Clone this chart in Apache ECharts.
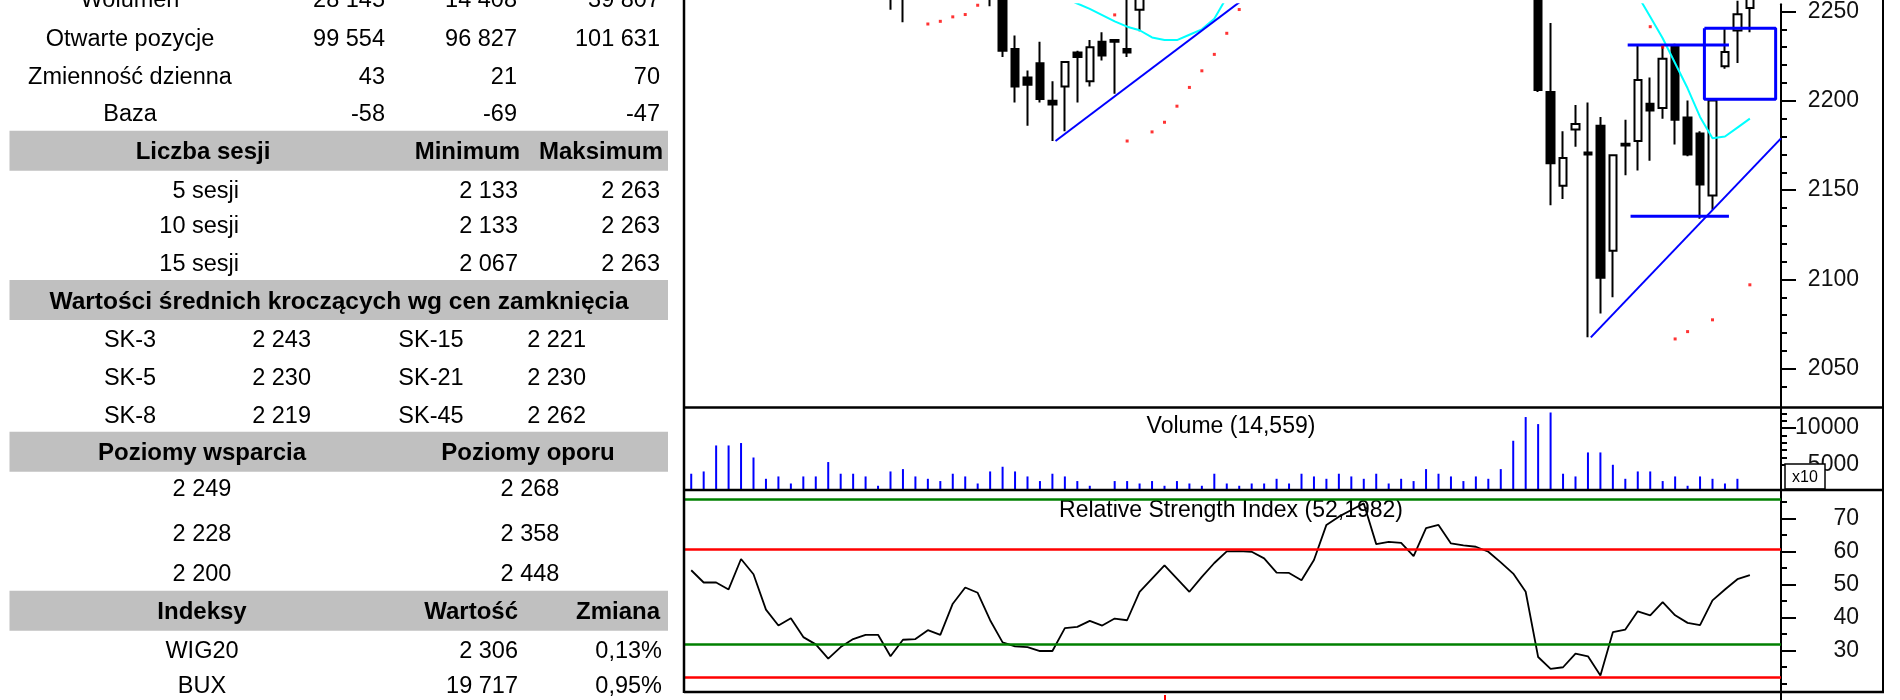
<!DOCTYPE html>
<html>
<head>
<meta charset="utf-8">
<script src="https://cdn.jsdelivr.net/npm/echarts@6/dist/echarts.min.js"></script>
<style>html,body{margin:0;padding:0;background:#fff}#c{width:1900px;height:700px}</style>
</head>
<body>
<div id="c"></div>
<script>
const FONT = '"Liberation Sans", Arial, Helvetica, sans-serif';

// ---------- chart data ----------
const sessions = Array.from({length: 88}, (_, i) => String(i + 1));

const opens = [2296,2300,2297,2296,2293,2304,2299,2286,2277,2280,
  2272,2268,2261,2263,2266,2268,2267,2259,2264,2266,
  2271,2268,2282,2290,2287,2270,2229,2213,2221,2200,
  2208,2227,2211,2233,2234,2229,2251,2262,2276,2287,
  2279,2270,2281,2292,2303,2305,2302,2297,2288,2287,
  2284,2299,2330,2341,2348,2355,2331,2331,2328,2319,
  2340,2343,2328,2327,2324,2320,2309,2297,2278,2205,
  2152.5,2184,2171,2186,2116,2175,2177.5,2198.3,2196,2231,
  2190.7,2181.7,2147,2219.3,2239.3,2252];
const closes = [2300,2296,2295,2292,2305,2300,2285,2278,2281,2272,
  2268,2260,2264,2266,2268,2268,2258,2264,2265,2270,
  2268,2282,2290,2288,2275,2228,2208,2209,2201,2198,
  2221.7,2224.5,2230,2225.4,2233,2227,2262,2275,2288,2280,
  2270,2280,2292,2303,2304,2303,2298,2288,2288,2283,
  2298,2330,2340,2348,2356,2330,2330,2329,2318,2340,
  2344,2328,2327,2325,2320,2310,2298,2280,2206,2165,
  2168,2187,2170,2101,2169.5,2176,2211.6,2194.6,2223.6,2189.4,
  2170,2153.1,2200.2,2227.3,2248.5,2258];
const lows = [2290,2290,2289,2286,2291,2294,2281,2272,2273,2267,
  2262,2256,2257,2259,2261,2262,2251,2244,2257,2260,
  2262,2265,2278,2282,2253,2224.5,2199,2186,2199,2177.5,
  2183,2199,2208,2222.6,2204,2224.5,2239,2258,2270,2274,
  2264,2266,2277,2288,2297,2298,2292,2283,2281,2277,
  2280,2296,2325,2336,2343,2326,2324,2322,2313,2316,
  2335,2324,2321,2319,2314,2304,2290,2272,2205,2141.5,
  2145,2174.3,2067.6,2081,2090,2158.4,2161,2166.4,2190,2175.6,
  2169,2134,2139,2218,2221.2,2238.4];
const highs = [2306,2304,2301,2299,2309,2308,2302,2290,2286,2284,
  2276,2271,2268,2270,2272,2273,2270,2268,2270,2274,
  2275,2285,2294,2295,2290,2272,2236.5,2217,2233,2211,
  2222,2228,2234,2238.4,2234.5,2258,2266,2279,2292,2291,
  2283,2284,2296,2307,2309,2310,2306,2300,2294,2292,
  2301,2334,2345,2352,2360,2358,2336,2335,2332,2343,
  2348,2346,2333,2331,2328,2323,2312,2300,2280,2243.5,
  2183,2197.7,2199,2191,2170,2189.4,2231,2213,2231,2232,
  2200.2,2183,2201,2240.2,2256,2263];

const ma15 = [2306,2305,2304,2303,2302,2301,2299,2297,2295,2293,
  2291,2289,2287,2285,2283,2281,2279,2277,2275,2274,
  2273,2273,2273,2272,2271,2269,2266,2263,2260,2258.5,
  2257.5,2254.5,2251.5,2248,2244.5,2241.5,2239.5,2235.5,2234,2234,
  2237,2240,2246,2258,2264,2268,2273,2277,2281,2284,
  2288,2293,2298,2303,2308,2311,2314,2317,2319,2322,
  2324,2325,2326,2326,2325,2324,2322,2318,2312,2306,
  2300,2294,2288,2282,2276,2269,2259,2247,2235,2221,
  2207,2191,2179,2180,2185,2190];

const sarPoints = [[19,2243],[20,2244.5],[21,2247],[22,2248.3],[23,2253.5],
  [34,2248.1],[35,2177.5],[37,2182.6],[38,2188],[39,2197],[40,2207.5],[41,2216.8],
  [42,2226],[43,2237.8],[44,2251.1],[77,2241.5],[78,2230],[79,2066.7],[80,2070.8],
  [82,2077.4],[85,2097]];

const volume = [3780,4090,7630,7630,7960,5990,3090,3410,2450,3410,
  3410,5370,3780,3780,3410,2140,4090,4410,3410,3090,
  2780,3780,3410,2450,4090,4730,4090,3410,2780,3780,
  3410,2780,2140,1650,2780,2780,2450,2780,2140,2780,
  2450,2140,3780,2450,2140,2450,2450,3090,2450,3780,
  3410,3090,3780,3410,3090,3780,2450,3090,2780,4410,
  3780,3410,2780,3410,3090,4410,8270,11500,10540,12120,
  3780,3410,6680,6680,5000,3090,4090,4090,2780,3410,
  2140,3410,3090,2450,3090,null];

const rsi = [54.3,50.6,50.6,48.5,57.7,53.1,42.4,37.6,39.8,34.1,
  31.9,27.6,31.1,33.5,34.8,34.8,28.3,33.3,33.5,36.2,
  34.8,44.2,49.1,47.5,39.2,32.5,31.3,31.1,29.9,29.9,
  36.8,37.2,39.0,37.6,39.7,39.2,47.8,51.8,55.8,51.8,
  47.8,52.3,56.5,60.0,60.1,59.9,57.9,53.6,53.5,51.3,
  57.4,68.0,70.5,72.5,74.5,62.2,62.9,62.6,58.6,67.0,
  68.0,62.4,61.8,61.4,59.9,56.7,53.3,47.8,28.1,24.5,
  25.0,29.1,28.3,22.5,35.6,36.4,41.9,40.7,44.7,40.7,
  38.4,37.7,45.2,48.5,51.6,52.8];
const rsiLevels = {upperGreen: 75.7, upperRed: 60.8, lowerGreen: 31.9, lowerRed: 21.9};

// analyst drawings, in data coordinates (x = session index)
const trendA = [[29.25, 2177.5], [45.5, 2263]];
const trendB = [[72.23, 2067.6], [87.5, 2179]];
const resistLine = [[75.19, 2231.2], [83.32, 2231.2]];
const supportLine = [[75.42, 2135.4], [83.32, 2135.4]];
const boxArea = [[81.35, 2240.6], [87.07, 2240.6], [87.07, 2200.9], [81.35, 2200.9], [81.35, 2240.6]];

// axis ticks / labels
const priceMajor = [2050, 2100, 2150, 2200, 2250];
const priceMinor = [2040,2060,2070,2080,2090,2110,2120,2130,2140,2160,2170,2180,2190,2210,2220,2230,2240];
const volMajor = [5000, 10000];
const volMinor = [6000,7000,8000,9000,11000,12000];
const rsiMajor = [30, 40, 50, 60, 70];
const rsiMinor = [20, 25, 35, 45, 55, 65, 75];

const volumeTitle = 'Volume (14,559)';
const rsiTitle = 'Relative Strength Index (52,1982)';
const volScaleNote = 'x10';

// ---------- table data ----------
const statLabels = ['Wolumen', 'Otwarte pozycje', 'Zmienność dzienna', 'Baza'];
const statValues = [['28 145','14 408','39 807'],['99 554','96 827','101 631'],['43','21','70'],['-58','-69','-47']];
const sessionHeader = ['Liczba sesji', 'Minimum', 'Maksimum'];
const sessionLabels = ['5 sesji', '10 sesji', '15 sesji'];
const sessionMin = ['2 133', '2 133', '2 067'];
const sessionMax = ['2 263', '2 263', '2 263'];
const maHeader = 'Wartości średnich kroczących wg cen zamknięcia';
const maNamesA = ['SK-3', 'SK-5', 'SK-8'];
const maValsA = ['2 243', '2 230', '2 219'];
const maNamesB = ['SK-15', 'SK-21', 'SK-45'];
const maValsB = ['2 221', '2 230', '2 262'];
const levelHeader = ['Poziomy wsparcia', 'Poziomy oporu'];
const supportLevels = ['2 249', '2 228', '2 200'];
const resistLevels = ['2 268', '2 358', '2 448'];
const indexHeader = ['Indeksy', 'Wartość', 'Zmiana'];
const indexNames = ['WIG20', 'BUX'];
const indexValues = ['2 306', '19 717'];
const indexChanges = ['0,13%', '0,95%'];

// ---------- layout ----------
const G = {left: 685, width: 1096};
const AX = 1781;

const candles = opens.map((o, i) => [o, closes[i], lows[i], highs[i]]);

function txt(text, x, y, align, bold, size) {
  return {type: 'text', silent: true, z: 5, style: {
    text: text, x: x, y: y, fill: '#000',
    fontFamily: FONT, fontSize: size || 23.5, fontWeight: bold ? 'bold' : 'normal',
    align: align, textAlign: align, verticalAlign: 'middle', textVerticalAlign: 'middle'}};
}
function band(y) {
  return {type: 'rect', silent: true, z: 1, shape: {x: 9.5, y: y, width: 658.5, height: 40}, style: {fill: '#c0c0c0'}};
}
function hline(x1, x2, y, w, color) {
  return {type: 'line', silent: true, z: 50, shape: {x1: x1, y1: y, x2: x2, y2: y}, style: {stroke: color || '#000', lineWidth: w}};
}
function vline(x, y1, y2, w, color) {
  return {type: 'line', silent: true, z: 50, shape: {x1: x, y1: y1, x2: x, y2: y2}, style: {stroke: color || '#000', lineWidth: w}};
}

const graphics = [];
// table
const statY = [1, 40, 77.3, 115];
const valRight = [385, 517, 660];
statLabels.forEach((l, i) => {
  graphics.push(txt(l, 130, statY[i], 'center'));
  statValues[i].forEach((v, j) => graphics.push(txt(v, valRight[j], statY[i], 'right')));
});
graphics.push(band(130.7));
graphics.push(txt(sessionHeader[0], 203, 152, 'center', true, 24));
graphics.push(txt(sessionHeader[1], 520, 152, 'right', true, 24));
graphics.push(txt(sessionHeader[2], 663, 152, 'right', true, 24));
const sessY = [191.7, 226.7, 265];
sessionLabels.forEach((l, i) => {
  graphics.push(txt(l, 239, sessY[i], 'right'));
  graphics.push(txt(sessionMin[i], 518, sessY[i], 'right'));
  graphics.push(txt(sessionMax[i], 660, sessY[i], 'right'));
});
graphics.push(band(280));
graphics.push(txt(maHeader, 339, 302, 'center', true, 24.5));
const maY = [340.7, 378.3, 416.7];
maNamesA.forEach((n, i) => {
  graphics.push(txt(n, 130, maY[i], 'center'));
  graphics.push(txt(maValsA[i], 311, maY[i], 'right'));
  graphics.push(txt(maNamesB[i], 431, maY[i], 'center'));
  graphics.push(txt(maValsB[i], 586, maY[i], 'right'));
});
graphics.push(band(431.7));
graphics.push(txt(levelHeader[0], 202, 453, 'center', true, 24));
graphics.push(txt(levelHeader[1], 528, 453, 'center', true, 24));
const lvlY = [490, 535, 575];
supportLevels.forEach((s, i) => {
  graphics.push(txt(s, 202, lvlY[i], 'center'));
  graphics.push(txt(resistLevels[i], 530, lvlY[i], 'center'));
});
graphics.push(band(590.7));
graphics.push(txt(indexHeader[0], 202, 612, 'center', true, 24));
graphics.push(txt(indexHeader[1], 518, 612, 'right', true, 24));
graphics.push(txt(indexHeader[2], 660, 612, 'right', true, 24));
const idxY = [651.7, 686.7];
indexNames.forEach((n, i) => {
  graphics.push(txt(n, 202, idxY[i], 'center'));
  graphics.push(txt(indexValues[i], 518, idxY[i], 'right'));
  graphics.push(txt(indexChanges[i], 662, idxY[i], 'right'));
});
// chart frame
graphics.push(vline(684, 0, 693, 2.5));
graphics.push(hline(684, 1884, 407.5, 2.5));
graphics.push(hline(684, 1884, 490, 2.5));
graphics.push(hline(684, 1884, 692, 2.5));
graphics.push(vline(1883, 0, 693, 2));
graphics.push(vline(AX, 690, 700, 2));
graphics.push({type: 'rect', silent: true, z: 50, shape: {x: 1164, y: 695, width: 2, height: 5}, style: {fill: '#ff0000'}});
// panel titles
graphics.push(Object.assign(txt(volumeTitle, 1231, 427, 'center', false, 23), {z: 0}));
graphics.push(Object.assign(txt(rsiTitle, 1231, 511, 'center', false, 23), {z: 0}));
// x10 box
graphics.push({type: 'rect', silent: true, z: 40, shape: {x: 1785, y: 464, width: 40, height: 25}, style: {fill: '#fff', stroke: '#000', lineWidth: 1.5}});
graphics.push(Object.assign(txt(volScaleNote, 1805, 477.5, 'center', false, 16), {z: 41}));

const labelStyle = {fontFamily: FONT, fontSize: 23, color: '#111', align: 'right', margin: 78,
  padding: [6, 0, 0, 0], formatter: v => String(v)};
function majorAxis(gridIndex, min, max, ticks) {
  return {type: 'value', gridIndex: gridIndex, position: 'right', min: min, max: max,
    axisLine: {show: true, onZero: false, lineStyle: {color: '#000', width: 2}},
    axisTick: {show: true, customValues: ticks, length: 15, lineStyle: {color: '#000', width: 2}},
    axisLabel: Object.assign({customValues: ticks}, labelStyle),
    splitLine: {show: false}};
}
// minor-tick axis: sits on the left slot, shifted onto the right edge, ticks drawn outward (to the right)
function minorAxis(gridIndex, min, max, ticks) {
  return {type: 'value', gridIndex: gridIndex, position: 'left', offset: -G.width, min: min, max: max,
    axisLine: {show: false},
    axisTick: {show: true, inside: true, customValues: ticks, length: 6, lineStyle: {color: '#000', width: 2}},
    axisLabel: {show: false}, splitLine: {show: false}};
}
function overlay(data, width) {
  return {type: 'line', xAxisIndex: 3, yAxisIndex: 0, data: data, symbol: 'none', clip: true,
    lineStyle: {color: '#0000ff', width: width}, z: 4, silent: true};
}

const PMIN = 2028.6, PMAX = 2254.0;
const VMIN = 1700, VMAX = 12732;
const RMIN = 17.82, RMAX = 78.25;

const option = {
  animation: false,
  backgroundColor: '#fff',
  grid: [
    {left: G.left, width: G.width, top: 0, height: 407},
    {left: G.left, width: G.width, top: 408, height: 81},
    {left: G.left, width: G.width, top: 491, height: 200}
  ],
  xAxis: [
    {type: 'category', gridIndex: 0, data: sessions, show: false},
    {type: 'category', gridIndex: 1, data: sessions, show: false},
    {type: 'category', gridIndex: 2, data: sessions, show: false},
    {type: 'value', gridIndex: 0, min: -0.5, max: 87.5, show: false}
  ],
  yAxis: [
    majorAxis(0, PMIN, PMAX, priceMajor),
    minorAxis(0, PMIN, PMAX, priceMinor),
    majorAxis(1, VMIN, VMAX, volMajor),
    minorAxis(1, VMIN, VMAX, volMinor),
    majorAxis(2, RMIN, RMAX, rsiMajor),
    minorAxis(2, RMIN, RMAX, rsiMinor)
  ],
  graphic: {elements: graphics},
  series: [
    {type: 'candlestick', xAxisIndex: 0, yAxisIndex: 0, data: candles, barWidth: 8, clip: true, z: 3,
      itemStyle: {color: '#fff', color0: '#000', borderColor: '#000', borderColor0: '#000', borderWidth: 2}},
    {type: 'line', xAxisIndex: 0, yAxisIndex: 0, data: ma15, symbol: 'none', clip: true, z: 4,
      lineStyle: {color: '#00ffff', width: 2}},
    {type: 'scatter', xAxisIndex: 0, yAxisIndex: 0, data: sarPoints, symbol: 'rect', symbolSize: 3, clip: true, z: 5,
      itemStyle: {color: '#ff0000'}},
    overlay(trendA, 2),
    overlay(trendB, 2),
    overlay(resistLine, 3),
    overlay(supportLine, 3),
    overlay(boxArea, 3),
    {type: 'bar', xAxisIndex: 1, yAxisIndex: 2, data: volume, barWidth: 2, clip: true,
      itemStyle: {color: '#0000ff'}},
    {type: 'line', xAxisIndex: 2, yAxisIndex: 4, data: rsi, symbol: 'none', clip: true, z: 4,
      lineStyle: {color: '#000', width: 1.8},
      markLine: {silent: true, symbol: 'none', label: {show: false}, animation: false,
        data: [
          {yAxis: rsiLevels.upperGreen, lineStyle: {color: '#008000', width: 2.5, type: 'solid'}},
          {yAxis: rsiLevels.upperRed, lineStyle: {color: '#ff0000', width: 2.5, type: 'solid'}},
          {yAxis: rsiLevels.lowerGreen, lineStyle: {color: '#008000', width: 2.5, type: 'solid'}},
          {yAxis: rsiLevels.lowerRed, lineStyle: {color: '#ff0000', width: 2.5, type: 'solid'}}
        ]}}
  ]
};

const chart = echarts.init(document.getElementById('c'), null, {renderer: 'canvas', width: 1900, height: 700});
chart.setOption(option);
</script>
</body>
</html>
